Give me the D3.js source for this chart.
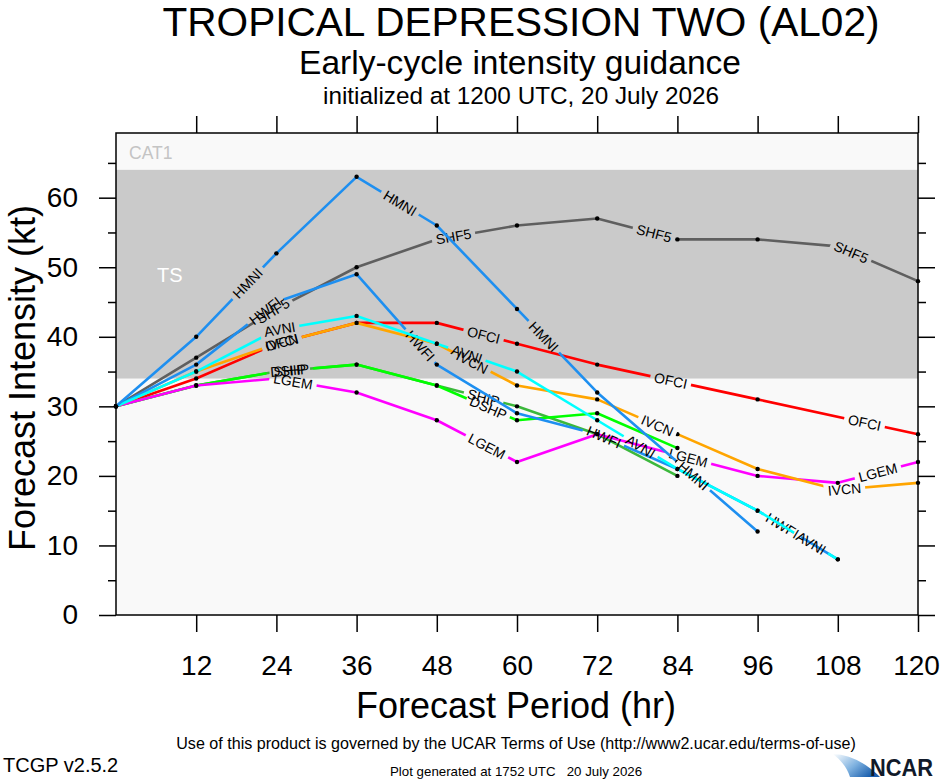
<!DOCTYPE html>
<html>
<head>
<meta charset="utf-8">
<script src="https://cdn.jsdelivr.net/npm/d3@7"></script>
<style>
  body { margin: 0; background: #fff; }
  svg { display: block; }
  text { font-family: "Liberation Sans", Arial, Helvetica, sans-serif; }
</style>
</head>
<body>
<svg id="chart" width="940" height="780"></svg>
<script>
// forecast hours and model intensities (kt), null = no forecast at that hour
var hours = [0, 12, 24, 36, 48, 60, 72, 84, 96, 108, 120];
var OFCI = [30, 34, 39, 42, 42, 39, 36, null, 31, null, 26];
var SHIP = [30, 33, 35, 36, 33, 30, 26, 20, null, null, null];
var DSHP = [30, 33, 35, 36, 33, 28, 29, 24, null, null, null];
var LGEM = [30, 33, 34, 32, 28, 22, 26, 23, 20, 19, 22];
var IVCN = [30, 35, 39, 42, 39, 33, 31, 26, 21, 18, 19];
var SHF5 = [30, 37, 44, 50, 54, 56, 57, 54, 54, 53, 48];
var HWFI = [30, 36, 45, 49, 36, 29, 26, 21, 15, 8, null];
var AVNI = [30, 35, 41, 43, 39, 35, 28, 21, 15, 8, null];
var HMNI = [30, 40, 52, 63, 56, 44, 32, 22, 12, null, null];

var modelNames = ["OFCI", "SHIP", "DSHP", "LGEM", "IVCN", "SHF5", "HWFI", "AVNI", "HMNI"];
var modelValues = [OFCI, SHIP, DSHP, LGEM, IVCN, SHF5, HWFI, AVNI, HMNI];

var xTickValues = [12, 24, 36, 48, 60, 72, 84, 96, 108, 120];
var yTickValues = [0, 10, 20, 30, 40, 50, 60];
var yMinorValues = [5, 15, 25, 35, 45, 55, 65];

// Saffir-Simpson thresholds (kt)
var tsThreshold = 34;
var hurThreshold = 64;

// ---- styles / layout (kept apart from the data) ----
var modelColors = {
  OFCI: "#ff0000", SHIP: "#3cb83c", DSHP: "#00ff00", LGEM: "#ff00ff",
  IVCN: "#ffa500", SHF5: "#5f5f5f", HWFI: "#1e8ff0", AVNI: "#00ffff", HMNI: "#1e8ff0"
};
// hours along each line where its name is written
var labelHours = {
  OFCI: [24.8, 55, 83, 112],
  SHIP: [26, 55],
  DSHP: [26, 55.7],
  LGEM: [26.5, 55.5, 85.6, 114],
  IVCN: [24.8, 53.3, 81, 109],
  SHF5: [23.5, 50.5, 80.5, 110],
  HWFI: [22.3, 45.5, 73, 99.7],
  AVNI: [24.5, 52.5, 78.5, 104],
  HMNI: [19.7, 42.5, 64, 86.4]
};

var plotL = 116, plotR = 918, plotT = 133, plotB = 615;
var svg = d3.select("#chart");
var defs = svg.append("defs");

var allVals = [];
modelValues.forEach(function(v) { v.forEach(function(d) { if (d != null) allVals.push(d); }); });
var yMax = d3.max(allVals) * 1.1;

var x = d3.scaleLinear().domain([0, 120]).range([plotL, plotR]);
var y = d3.scaleLinear().domain([0, yMax]).range([plotB, plotT]);

// background bands
svg.append("rect").attr("x", plotL).attr("y", plotT).attr("width", plotR - plotL).attr("height", plotB - plotT)
  .attr("fill", "#f9f9f9");
svg.append("rect").attr("x", plotL).attr("y", y(hurThreshold)).attr("width", plotR - plotL)
  .attr("height", y(tsThreshold) - y(hurThreshold)).attr("fill", "#cacaca");

svg.append("text").attr("x", 129).attr("y", 159).attr("font-size", 17.5).attr("fill", "#c4c4c4").text("CAT1");
svg.append("text").attr("x", 157).attr("y", 282).attr("font-size", 20).attr("fill", "#ffffff").text("TS");

// lines, dots, labels
var line = d3.line().x(function(d) { return x(d.h); }).y(function(d) { return y(d.v); });

modelNames.forEach(function(name, k) {
  var pts = [];
  modelValues[k].forEach(function(v, i) { if (v != null) pts.push({ h: hours[i], v: v }); });

  var mask = defs.append("mask").attr("id", "mask_" + name)
    .attr("maskUnits", "userSpaceOnUse").attr("x", 0).attr("y", 0).attr("width", 940).attr("height", 780);
  mask.append("rect").attr("width", 940).attr("height", 780).attr("fill", "#fff");

  var g = svg.append("g").attr("mask", "url(#mask_" + name + ")");
  g.append("path").datum(pts).attr("d", line).attr("fill", "none")
    .attr("stroke", modelColors[name]).attr("stroke-width", 2.6).attr("stroke-linejoin", "round");
  g.selectAll("circle").data(pts).enter().append("circle")
    .attr("cx", function(d) { return x(d.h); }).attr("cy", function(d) { return y(d.v); })
    .attr("r", 2.2).attr("fill", "#000");

  labelHours[name].forEach(function(h) {
    var i = 0;
    while (i < pts.length - 2 && pts[i + 1].h < h) i++;
    var a = pts[i], b = pts[i + 1];
    var t = (h - a.h) / (b.h - a.h);
    var px = x(h), py = y(a.v + t * (b.v - a.v));
    var ang = Math.atan2(y(b.v) - y(a.v), x(b.h) - x(a.h)) * 180 / Math.PI;
    var tr = "translate(" + px + "," + py + ") rotate(" + ang + ")";
    var txt = svg.append("text").attr("transform", tr).attr("font-size", 14)
      .attr("text-anchor", "middle").attr("dominant-baseline", "central").attr("fill", "#000").text(name);
    var w = txt.node().getComputedTextLength();
    mask.append("rect").attr("transform", tr).attr("x", -w / 2 - 4).attr("y", -7)
      .attr("width", w + 8).attr("height", 14).attr("fill", "#000");
  });
});

// frame and axes, ticks pointing outward
svg.append("rect").attr("x", plotL).attr("y", plotT).attr("width", plotR - plotL).attr("height", plotB - plotT)
  .attr("fill", "none").attr("stroke", "#000").attr("stroke-width", 1.5);

function styleAxis(g) {
  g.select(".domain").remove();
  g.selectAll("line").attr("stroke-width", 1.5);
  g.attr("font-family", null).attr("font-size", 28);
}

svg.append("g").attr("transform", "translate(" + plotL + ",0)")
  .call(d3.axisLeft(y).tickValues(yTickValues).tickSize(17).tickPadding(21).tickFormat(d3.format("d")))
  .call(styleAxis);
svg.append("g").attr("transform", "translate(" + plotL + ",0)")
  .call(d3.axisLeft(y).tickValues(yMinorValues).tickSize(8).tickFormat(""))
  .call(styleAxis);
svg.append("g").attr("transform", "translate(" + plotR + ",0)")
  .call(d3.axisRight(y).tickValues(yTickValues).tickSize(17).tickFormat(""))
  .call(styleAxis);
svg.append("g").attr("transform", "translate(" + plotR + ",0)")
  .call(d3.axisRight(y).tickValues(yMinorValues).tickSize(8).tickFormat(""))
  .call(styleAxis);
var xAxisG = svg.append("g").attr("transform", "translate(0," + plotB + ")")
  .call(d3.axisBottom(x).tickValues(xTickValues).tickSize(17).tickPadding(23).tickFormat(d3.format("d")))
  .call(styleAxis);
// last label sits against the page edge
xAxisG.selectAll(".tick text").filter(function(d) { return d === 120; }).attr("dx", -2);
svg.append("g").attr("transform", "translate(0," + plotT + ")")
  .call(d3.axisTop(x).tickValues(xTickValues).tickSize(17).tickFormat(""))
  .call(styleAxis);

// titles (narrow Helvetica look)
svg.append("text").attr("x", 521).attr("y", 36).attr("text-anchor", "middle").attr("font-size", 40)
  .attr("textLength", 717).attr("lengthAdjust", "spacingAndGlyphs")
  .text("TROPICAL DEPRESSION TWO (AL02)");
svg.append("text").attr("x", 520).attr("y", 74).attr("text-anchor", "middle").attr("font-size", 33)
  .attr("textLength", 442).attr("lengthAdjust", "spacingAndGlyphs")
  .text("Early-cycle intensity guidance");
svg.append("text").attr("x", 521).attr("y", 104).attr("text-anchor", "middle").attr("font-size", 24.5)
  .attr("textLength", 396).attr("lengthAdjust", "spacingAndGlyphs")
  .text("initialized at 1200 UTC, 20 July 2026");

svg.append("text").attr("x", 516).attr("y", 718).attr("text-anchor", "middle").attr("font-size", 36)
  .text("Forecast Period (hr)");
svg.append("text").attr("transform", "translate(35,378) rotate(-90)").attr("text-anchor", "middle")
  .attr("font-size", 36).text("Forecast Intensity (kt)");

// footer
svg.append("text").attr("x", 516).attr("y", 749).attr("text-anchor", "middle").attr("font-size", 16.1)
  .text("Use of this product is governed by the UCAR Terms of Use (http://www2.ucar.edu/terms-of-use)");
svg.append("text").attr("x", 3).attr("y", 772).attr("font-size", 20).text("TCGP v2.5.2");
svg.append("text").attr("x", 390).attr("y", 776).attr("font-size", 13.3).style("white-space", "pre")
  .text("Plot generated at 1752 UTC   20 July 2026");

// NCAR logo
var grad = defs.append("linearGradient").attr("id", "ncarGrad")
  .attr("x1", "0%").attr("y1", "0%").attr("x2", "100%").attr("y2", "60%");
grad.append("stop").attr("offset", "0%").attr("stop-color", "#ffffff");
grad.append("stop").attr("offset", "55%").attr("stop-color", "#7fb2e0");
grad.append("stop").attr("offset", "100%").attr("stop-color", "#1b5fae");
svg.append("path").attr("d", "M833,754 Q858,755 880,777 L850,777 Q846,764 833,754 Z").attr("fill", "url(#ncarGrad)");
svg.append("text").attr("x", 870).attr("y", 776).attr("font-size", 23).attr("font-weight", "bold")
  .attr("fill", "#111a2a").attr("textLength", 63).attr("lengthAdjust", "spacingAndGlyphs").text("NCAR");
</script>
</body>
</html>
